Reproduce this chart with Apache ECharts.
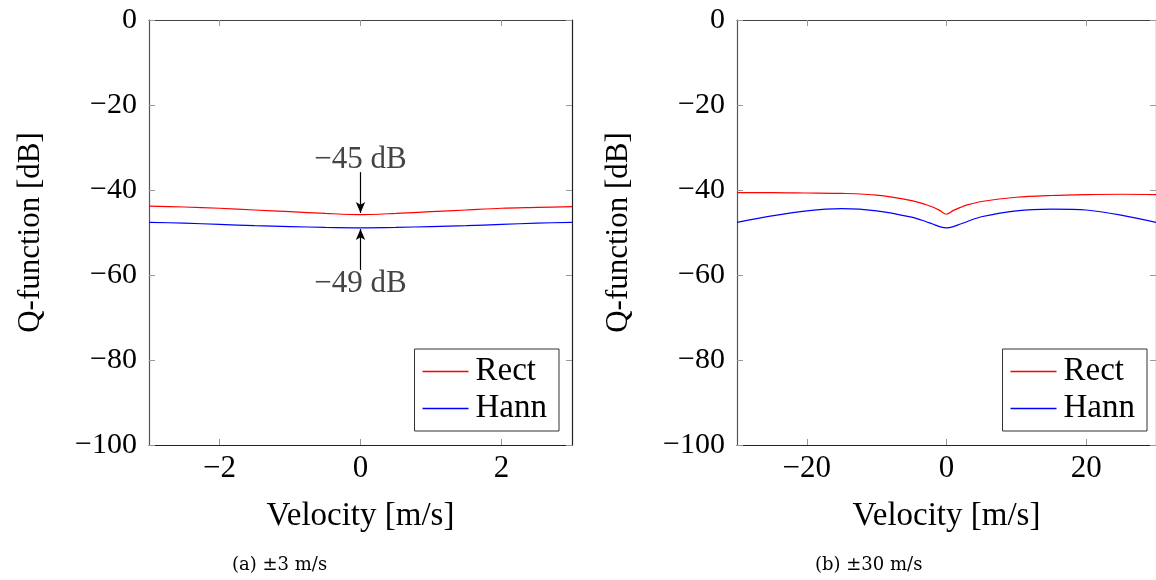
<!DOCTYPE html>
<html>
<head>
<meta charset="utf-8">
<script src="https://cdn.jsdelivr.net/npm/echarts@6/dist/echarts.min.js"></script>
<style>html,body{margin:0;padding:0;background:#fff}#c{width:1156px;height:580px}</style>
</head>
<body>
<div id="c"></div>
<script>
// ---- data ----
const velA = [-3, -2.5, -2, -1.5, -1, -0.5, 0, 0.5, 1, 1.5, 2, 2.5, 3];
const rectA = [-43.8, -44.0, -44.3, -44.7, -45.1, -45.5, -45.8, -45.5, -45.1, -44.7, -44.3, -44.1, -43.9];
const hannA = [-47.6, -47.8, -48.1, -48.4, -48.6, -48.8, -48.9, -48.8, -48.6, -48.4, -48.1, -47.8, -47.6];

const velB = [-30, -25, -20, -15, -10, -5, -3, -2, -1, 0, 1, 2, 3, 5, 10, 15, 20, 25, 30];
const rectB = [-40.6, -40.6, -40.7, -40.8, -41.2, -42.5, -43.4, -44.0, -44.8, -45.7, -44.8, -44.1, -43.5, -42.7, -41.7, -41.3, -41.1, -41.0, -41.1];
const hannB = [-47.6, -46.1, -44.9, -44.4, -44.9, -46.4, -47.4, -48.0, -48.6, -48.9, -48.6, -48.0, -47.4, -46.3, -44.9, -44.5, -44.7, -45.9, -47.6];

const xTicksA = [-2, 0, 2];
const xTicksB = [-20, 0, 20];
const yTicks = [-100, -80, -60, -40, -20, 0];

const seriesNames = ['Rect', 'Hann'];
const captions = ['(a) \u00b13 m/s', '(b) \u00b130 m/s'];
const annotTexts = ['\u221245 dB', '\u221249 dB'];
const annotTextY = [-32.9, -62.1];
const annotArrowFrom = [-35.8, -58.8];
const annotArrowTo = [-45.4, -49.2];

const FONT = 'Liberation Serif';
const fmtNum = v => (v < 0 ? '\u2212' + Math.abs(v) : String(v));

function pair(arrX, arrY) { return arrX.map((x, i) => [x, arrY[i]]); }

const tickStyle = { inside: true, length: 6, lineStyle: { color: '#999' } };

function xAxisPair(gi, lim, interval, ticks) {
  return [
    { type: 'value', gridIndex: gi, min: -lim, max: lim, interval: interval,
      name: 'Velocity [m/s]', nameLocation: 'middle', nameGap: 55,
      nameTextStyle: { fontFamily: FONT, fontSize: 33, color: '#000' },
      axisLine: { onZero: false, lineStyle: { color: '#222', width: 1.2 } },
      axisTick: Object.assign({ customValues: ticks }, tickStyle),
      axisLabel: { customValues: ticks, fontFamily: FONT, fontSize: 31, color: '#000', margin: 8, formatter: fmtNum },
      splitLine: { show: false } },
    { type: 'value', gridIndex: gi, position: 'top', min: -lim, max: lim, interval: interval,
      axisLine: { onZero: false, lineStyle: { color: '#444', width: 1.2 } },
      axisTick: Object.assign({ customValues: ticks }, tickStyle),
      axisLabel: { show: false }, splitLine: { show: false } }
  ];
}
function yAxisPair(gi) {
  return [
    { type: 'value', gridIndex: gi, min: -100, max: 0, interval: 20,
      name: 'Q-function [dB]', nameLocation: 'middle', nameGap: 103,
      nameTextStyle: { fontFamily: FONT, fontSize: 31, color: '#000' },
      axisLine: { onZero: false, lineStyle: { color: '#555', width: 1.2 } },
      axisTick: Object.assign({ customValues: yTicks }, tickStyle),
      axisLabel: { customValues: yTicks, fontFamily: FONT, fontSize: 30, color: '#000', margin: 12, formatter: fmtNum },
      splitLine: { show: false } },
    { type: 'value', gridIndex: gi, position: 'right', min: -100, max: 0, interval: 20,
      axisLine: { onZero: false, lineStyle: { color: '#222', width: 1.2 } },
      axisTick: Object.assign({ customValues: yTicks }, tickStyle),
      axisLabel: { show: false }, splitLine: { show: false } }
  ];
}

function lineSeries(name, data, xi, yi, color, extra) {
  return Object.assign({
    type: 'line', name: name, data: data, xAxisIndex: xi, yAxisIndex: yi,
    symbol: 'none', smooth: 0.3, lineStyle: { color: color, width: 1.2 },
    itemStyle: { color: color }, z: 3
  }, extra || {});
}

const annotMarkLine = {
  silent: true, symbol: ['none', 'arrow'], symbolSize: [7, 11],
  lineStyle: { color: '#000', width: 1.2, type: 'solid' },
  label: { show: false },
  data: annotArrowFrom.map((y0, i) => [{ coord: [0, y0] }, { coord: [0, annotArrowTo[i]] }])
};
const annotMarkPoint = {
  silent: true, symbol: 'circle', symbolSize: 0,
  label: { show: true, position: 'inside', formatter: '{b}', fontFamily: FONT, fontSize: 31, color: '#444' },
  data: annotTexts.map((t, i) => ({ name: t, coord: [0, annotTextY[i]] }))
};

function legendFor(right) {
  return {
    data: seriesNames, orient: 'vertical', right: right, bottom: 149,
    backgroundColor: '#fff', borderColor: '#333', borderWidth: 1, borderRadius: 0,
    padding: [6, 12, 6, 8], itemGap: 4, itemWidth: 46, itemHeight: 1.5, icon: 'rect',
    selectedMode: false,
    textStyle: { fontFamily: FONT, fontSize: 33, color: '#000', padding: [0, 0, 0, 2] }
  };
}

const chart = echarts.init(document.getElementById('c'), null, { renderer: 'canvas' });
chart.setOption({
  animation: false,
  backgroundColor: '#fff',
  grid: [
    { left: 149, top: 20, width: 423, height: 425 },
    { left: 737, top: 20, width: 419, height: 425 }
  ],
  xAxis: [].concat(xAxisPair(0, 3, 1, xTicksA), xAxisPair(1, 30, 10, xTicksB)),
  yAxis: [].concat(yAxisPair(0), yAxisPair(1)),
  legend: [legendFor(597), legendFor(9)],
  series: [
    lineSeries(seriesNames[0], pair(velA, rectA), 0, 0, '#ff0000', { markLine: annotMarkLine, markPoint: annotMarkPoint }),
    lineSeries(seriesNames[1], pair(velA, hannA), 0, 0, '#0000ff'),
    lineSeries(seriesNames[0], pair(velB, rectB), 2, 2, '#ff0000'),
    lineSeries(seriesNames[1], pair(velB, hannB), 2, 2, '#0000ff')
  ],
  graphic: [
    { type: 'text', left: 232, top: 556, style: { text: captions[0], font: '18px "DejaVu Serif"', fill: '#000' } },
    { type: 'text', left: 815, top: 556, style: { text: captions[1], font: '18px "DejaVu Serif"', fill: '#000' } }
  ]
});
</script>
</body>
</html>
